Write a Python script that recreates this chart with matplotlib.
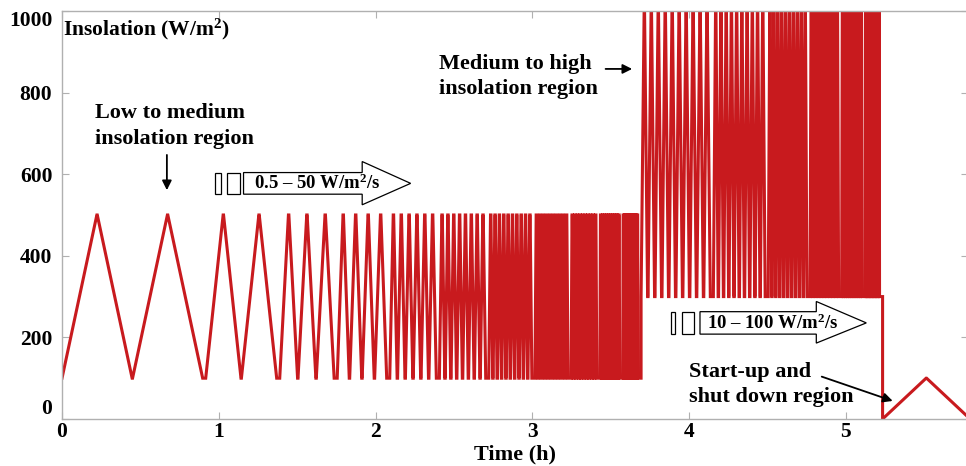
import matplotlib
matplotlib.use('Agg')
import matplotlib.pyplot as plt
from matplotlib.patches import Polygon, Rectangle

# ---- test profile (EN 50530 style ramps) ----
low_level = [100, 500]          # W/m2
low_slopes = [0.5, 1, 2, 3, 5, 7, 10, 14, 20, 30, 50]   # W/m2/s
low_reps = [2, 2, 3, 4, 6, 8, 10, 10, 10, 10, 10]
high_level = [300, 1000]
high_slopes = [10, 14, 20, 30, 50, 100]
high_reps = [10, 10, 10, 10, 10, 10]
start_level = [0, 100]
start_slopes = [0.1]
start_reps = [1]
dwell = 10      # s at each turning point
wait = 60       # s between slope groups

x_ticks = [0, 1, 2, 3, 4, 5]
y_ticks = [0, 200, 400, 600, 800, 1000]

RED = '#C81A1E'
FONT = 'Liberation Serif'
FS = 15.5
FS_NOTE = 16


def ramps(t, g, level, slopes, reps):
    lo, hi = level
    cur = t[-1]
    t.append(cur); g.append(lo)
    for s, n in zip(slopes, reps):
        rise = (hi - lo) / s
        for _ in range(n):
            cur += rise; t.append(cur); g.append(hi)
            cur += dwell; t.append(cur); g.append(hi)
            cur += rise; t.append(cur); g.append(lo)
            cur += dwell; t.append(cur); g.append(lo)
        cur += wait; t.append(cur); g.append(lo)


t_s = [0.0]
g = [low_level[0]]
ramps(t_s, g, low_level, low_slopes, low_reps)
ramps(t_s, g, high_level, high_slopes, high_reps)
ramps(t_s, g, start_level, start_slopes, start_reps)
t_h = [v / 3600 for v in t_s]

plt.rcParams['font.family'] = FONT
plt.rcParams['font.weight'] = 'bold'
plt.rcParams['mathtext.fontset'] = 'custom'
plt.rcParams['mathtext.rm'] = FONT + ':bold'
plt.rcParams['mathtext.default'] = 'rm'

fig = plt.figure(figsize=(9.66, 4.66), dpi=100)
ax = fig.add_axes([0.0642, 0.1009, 0.9379, 0.8755])

ax.plot(t_h, g, color=RED, lw=2.2, solid_joinstyle='miter')

ax.set_xlim(0, 5.78)
ax.set_ylim(0, 1000)
ax.set_xticks(x_ticks)
ax.set_yticks(y_ticks)
ax.tick_params(direction='in', length=5, width=0.8, color='#b0b0b0',
               top=True, right=True, labelsize=FS, pad=2)
ax.tick_params(axis='y', pad=7)
for sp in ax.spines.values():
    sp.set_color('#b0b0b0')
    sp.set_linewidth(1.0)
for lab in ax.get_yticklabels() + ax.get_xticklabels():
    lab.set_fontweight('bold')
ylabs = ax.get_yticklabels()
ylabs[-1].set_va('top')
ylabs[0].set_va('bottom')

ax.set_xlabel('Time (h)', fontsize=16, fontweight='bold', labelpad=2)

ax.text(0.008, 941, 'Insolation (W/m$^2$)', fontsize=FS,
        fontweight='bold', va='baseline', ha='left')

# low to medium region
ax.text(0.211, 718, 'Low to medium\ninsolation region', fontsize=FS_NOTE,
        fontweight='bold', ha='left', va='center', linespacing=1.35)
ax.annotate('', xy=(0.669, 554), xytext=(0.669, 654),
            arrowprops=dict(arrowstyle='-|>', color='black', lw=1.3,
                            mutation_scale=14))

# medium to high region
ax.text(2.403, 840, 'Medium to high\ninsolation region', fontsize=FS_NOTE,
        fontweight='bold', ha='left', va='center', linespacing=1.35)
ax.annotate('', xy=(3.655, 858), xytext=(3.45, 858),
            arrowprops=dict(arrowstyle='-|>', color='black', lw=1.3,
                            mutation_scale=14))

# start-up region
ax.text(4.0, 84, 'Start-up and\nshut down region', fontsize=FS_NOTE,
        fontweight='bold', ha='left', va='center', linespacing=1.35)
ax.annotate('', xy=(5.316, 42), xytext=(4.83, 106),
            arrowprops=dict(arrowstyle='-|>', color='black', lw=1.3,
                            mutation_scale=14))


def block_arrow(x0, x1, x2, x3, x4, xh, xt, yb, yt, yhb, yht, label, xl):
    # two small boxes then an outlined arrow with the ramp-rate text
    ax.add_patch(Rectangle((x0, yb), x1 - x0, yt - yb, fill=False,
                           ec='black', lw=0.9))
    ax.add_patch(Rectangle((x2, yb), x3 - x2, yt - yb, fill=False,
                           ec='black', lw=0.9))
    ym = (yb + yt) / 2
    pts = [(x4, yb), (xh, yb), (xh, yhb), (xt, ym), (xh, yht), (xh, yt), (x4, yt)]
    ax.add_patch(Polygon(pts, closed=True, fc='white', ec='black', lw=0.9,
                         zorder=3))
    ax.text(xl, ym, label, fontsize=13.5, fontweight='bold', va='center',
            ha='left', zorder=4)


block_arrow(0.973, 1.014, 1.052, 1.137, 1.158, 1.915, 2.224,
            551, 604, 525, 631, '0.5 – 50 W/m$^2$/s', 1.225)
block_arrow(3.885, 3.913, 3.955, 4.034, 4.070, 4.812, 5.131,
            208, 263, 186, 288, '10 – 100 W/m$^2$/s', 4.115)

fig.savefig('out.png', dpi=100)
